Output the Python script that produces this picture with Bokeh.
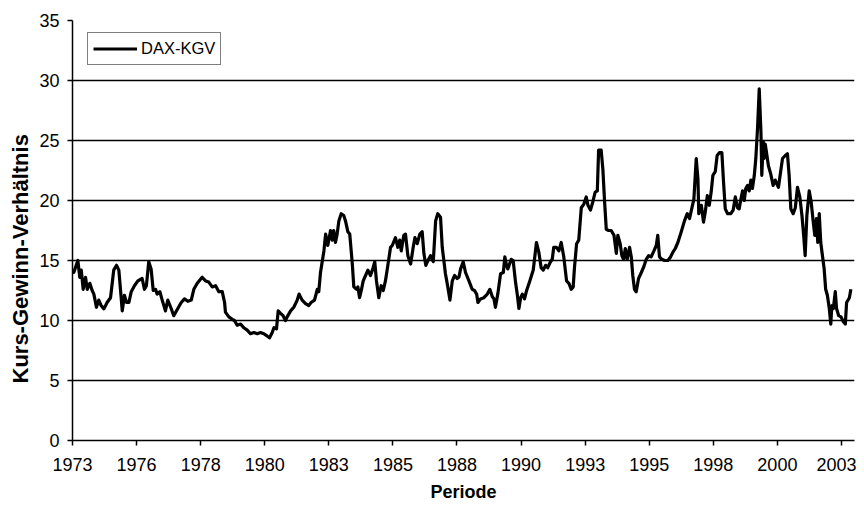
from bokeh.plotting import figure
from bokeh.models import FixedTicker, Legend, Title
from bokeh.embed import file_html
from bokeh.resources import INLINE

# Month index since Jan 1973 and DAX P/E values
months = [
    0.0, 0.6, 2.5, 3.4, 4.1, 5.0, 6.1, 6.9, 8.1, 9.2, 10.0, 11.2, 12.3, 13.4, 14.7, 16.2,
    17.8, 19.3, 20.6, 21.7, 22.5, 23.3, 24.3, 25.3, 26.4, 27.5, 29.0, 30.6, 32.6, 33.7, 34.6,
    35.7, 36.8, 37.8, 38.9, 39.6, 40.9, 42.0, 43.5, 44.6, 46.2, 47.4, 49.3, 50.9, 52.4, 54.0,
    55.6, 56.8, 58.4, 60.7, 62.3, 63.8, 65.4, 67.0, 68.5, 70.1, 71.2, 71.6, 73.2, 74.8, 75.8,
    77.1, 78.7, 80.2, 81.8, 83.3, 84.9, 86.5, 88.0, 89.6, 91.2, 92.2, 93.5, 94.3, 95.5, 96.3,
    97.4, 98.6, 99.7, 100.5, 102.1, 103.6, 105.2, 106.1, 107.5, 109.1, 110.6, 111.7, 113.3,
    114.6, 115.3, 116.1, 117.7, 118.5, 119.5, 120.8, 121.6, 122.3, 123.1, 123.9, 124.7, 125.8,
    127.0, 127.8, 128.9, 129.8, 131.0, 131.7, 133.0, 133.6, 134.4, 135.2, 136.1, 137.2, 138.3,
    139.5, 140.6, 141.5, 142.3, 143.4, 144.5, 145.5, 146.5, 147.3, 148.9, 149.7, 151.2, 152.3,
    153.2, 153.9, 155.1, 155.9, 157.0, 158.3, 159.5, 160.3, 161.4, 162.6, 163.7, 164.5, 165.4,
    166.4, 167.6, 168.9, 170.0, 171.0, 172.3, 173.1, 174.6, 175.7, 176.7, 177.8, 178.9, 180.1,
    180.9, 181.7, 182.9, 184.0, 185.6, 187.1, 188.2, 189.2, 189.8, 191.0, 192.6, 194.2, 195.4,
    196.5, 197.3, 198.0, 199.1, 200.4, 201.7, 202.4, 203.2, 203.8, 205.4, 206.3, 207.4, 208.2,
    209.0, 209.8, 210.6, 211.6, 212.6, 214.1, 215.7, 217.2, 218.3, 219.4, 220.4, 221.5, 222.5,
    223.8, 224.6, 225.3, 226.6, 227.7, 228.8, 230.0, 231.3, 232.4, 233.5, 234.4, 235.0, 236.0,
    237.0, 238.2, 239.4, 240.5, 241.3, 242.5, 243.6, 244.7, 245.7, 246.3, 247.5, 248.3, 249.1,
    249.9, 251.0, 252.2, 253.5, 254.6, 255.3, 256.4, 257.2, 258.0, 258.8, 259.7, 260.8, 261.6,
    262.3, 263.1, 263.9, 265.0, 266.3, 267.5, 268.6, 269.7, 270.9, 272.2, 273.3, 274.0, 274.8,
    275.9, 277.2, 278.7, 280.0, 281.1, 282.2, 283.4, 285.0, 286.5, 287.8, 288.9, 290.0, 290.9,
    292.0, 292.8, 293.2, 294.4, 295.4, 296.2, 297.2, 298.1, 299.0, 299.8, 300.9, 301.8, 302.9,
    304.0, 304.8, 305.6, 306.7, 308.2, 309.3, 310.3, 311.3, 312.1, 312.9, 313.7, 314.5, 315.2,
    316.0, 316.8, 317.6, 318.3, 319.2, 319.9, 320.7, 321.5, 322.3, 322.7, 323.4, 323.8, 324.3,
    324.9, 325.8, 326.9, 328.0, 329.0, 329.7, 330.5, 331.6, 332.4, 333.7, 334.7, 335.5, 336.3,
    337.4, 338.4, 339.4, 340.5, 341.5, 342.3, 343.0, 343.8, 344.9, 345.8, 346.8, 347.5, 348.3,
    348.9, 349.6, 350.3, 351.1, 351.9, 352.6, 353.4, 354.3, 355.0, 355.5, 356.2, 357.1, 357.7,
    358.7, 359.8, 360.9, 361.8, 362.4, 363.7, 364.4,
]
kgv = [
    14.0, 14.0, 15.0, 13.6, 14.2, 12.6, 13.6, 12.6, 13.1, 12.5, 12.2, 11.1, 11.7, 11.25, 10.97, 11.5,
    11.9, 14.2, 14.6, 14.2, 12.5, 10.8, 12.1, 11.5, 11.5, 12.4, 12.9, 13.3, 13.5, 12.6, 12.9,
    14.9, 14.3, 12.5, 12.6, 12.2, 12.4, 11.7, 10.8, 11.7, 11.0, 10.4, 11.0, 11.5, 11.8, 11.6,
    11.7, 12.6, 13.1, 13.6, 13.3, 13.2, 12.8, 12.9, 12.4, 12.4, 11.5, 10.7, 10.3, 10.1, 10.0,
    9.6, 9.7, 9.4, 9.2, 8.9, 9.0, 8.9, 9.0, 8.9, 8.7, 8.55, 9.0, 9.4, 9.3, 10.8,
    10.6, 10.4, 10.0, 10.3, 10.8, 11.1, 11.7, 12.2, 11.7, 11.4, 11.25, 11.5, 11.7,
    12.6, 12.4, 14.0, 15.8, 17.2, 16.25, 17.5, 16.7, 17.5, 16.5, 17.2, 18.3, 18.9,
    18.75, 18.3, 17.4, 17.2, 14.7, 12.8, 12.6, 12.8, 11.9, 12.5, 13.3, 13.75, 14.2,
    13.75, 14.3, 14.9, 13.3, 11.9, 12.9, 12.5, 13.3, 14.2, 16.1, 16.25, 16.9, 16.1,
    16.7, 15.8, 17.1, 17.2, 15.4, 14.7, 16.1, 16.9, 16.4, 17.2, 17.4, 15.6, 14.6,
    15.0, 15.4, 14.9, 18.3, 18.9, 18.6, 16.1, 13.9, 12.8, 11.7, 13.3, 13.75, 13.5,
    13.6, 14.3, 14.9, 14.0, 13.3, 12.6, 12.5, 12.2, 11.5, 11.8, 11.9, 12.2, 12.6,
    12.0, 11.8, 11.1, 12.2, 13.9, 14.0, 15.3, 14.6, 14.3, 15.1, 15.0, 13.2, 12.2,
    11.0, 11.9, 12.2, 11.8, 12.5, 13.3, 14.2, 16.5, 15.7, 14.4, 14.2, 14.6, 14.4,
    14.9, 15.1, 16.1, 16.1, 15.8, 16.5, 15.3, 13.3, 13.1, 12.6, 12.8, 14.4, 16.4,
    16.7, 19.4, 19.7, 20.3, 19.6, 19.2, 19.9, 20.7, 20.8, 24.2, 24.2, 22.6, 19.9,
    17.6, 17.5, 17.5, 17.1, 15.6, 17.1, 16.4, 15.4, 15.1, 16.0, 15.1, 16.1, 15.3,
    13.75, 12.6, 12.4, 13.5, 14.0, 14.5, 15.1, 15.4, 15.3, 15.8, 16.25, 17.1, 15.3,
    15.1, 15.0, 15.0, 15.3, 15.7, 16.0, 16.5, 17.4, 18.3, 18.9, 18.5, 19.4, 20.1,
    23.5, 21.8, 18.9, 19.6, 18.2, 19.0, 20.4, 19.6, 20.7, 22.1, 22.4, 23.75, 24.0,
    24.0, 21.5, 19.3, 18.9, 18.9, 19.2, 20.3, 19.4, 19.3, 20.1, 20.8, 20.0, 21.0,
    21.25, 20.8, 21.7, 21.0, 22.1, 23.5, 26.0, 29.3, 25.7, 22.1, 24.9, 23.5, 24.7,
    24.0, 22.9, 22.2, 21.25, 21.7, 21.4, 21.1, 22.5, 23.5, 23.75, 23.9, 22.1, 19.3,
    18.9, 19.4, 21.1, 20.3, 18.75, 17.1, 15.4, 18.75, 20.8, 19.9, 18.2, 17.1, 18.5,
    16.5, 18.9, 16.5, 15.4, 14.3, 12.6, 12.1, 11.0, 9.7, 11.25, 11.0, 12.4, 11.0,
    10.4, 10.3, 9.9, 9.7, 11.5, 11.9, 12.6,
]

tick_months = [0, 30, 60, 90, 120, 150, 180, 210, 240, 270, 300, 330, 360]
tick_labels = ["1973", "1976", "1978", "1980", "1983", "1985", "1988",
               "1990", "1993", "1995", "1998", "2000", "2003"]
y_ticks = [0, 5, 10, 15, 20, 25, 30, 35]

FONT = "Liberation Sans"

p = figure(width=856, height=507, output_backend="svg", toolbar_location=None,
           x_range=(0, 366.1), y_range=(0, 35),
           min_border_left=72, min_border_right=2, min_border_top=20, min_border_bottom=67)
p.outline_line_color = None
p.background_fill_color = "white"
p.border_fill_color = "white"

r = p.line(months, kgv, line_color="black", line_width=3.2, line_join="round")

# axes
p.xaxis.ticker = FixedTicker(ticks=tick_months)
p.xaxis.major_label_overrides = {m: l for m, l in zip(tick_months, tick_labels)}
p.yaxis.ticker = FixedTicker(ticks=y_ticks)
for ax in (p.xaxis[0], p.yaxis[0]):
    ax.axis_line_color = "black"
    ax.axis_line_width = 1.5
    ax.major_tick_line_color = "black"
    ax.major_tick_line_width = 1.5
    ax.major_tick_out = 5
    ax.major_tick_in = 0
    ax.minor_tick_line_color = None
    ax.major_label_text_font = FONT
    ax.major_label_text_font_size = "18px"
    ax.major_label_text_color = "black"
p.xaxis.major_label_standoff = 12
p.yaxis.major_label_standoff = 8

p.xaxis.axis_label = "Periode"
p.xaxis.axis_label_text_font = FONT
p.xaxis.axis_label_text_font_style = "bold"
p.xaxis.axis_label_text_font_size = "18px"
p.xaxis.axis_label_text_color = "black"
p.xaxis.axis_label_standoff = 8

p.xgrid.grid_line_color = None
p.ygrid.grid_line_color = "black"
p.ygrid.grid_line_width = 1.5

ytitle = Title(text="Kurs-Gewinn-Verhältnis", align="left", offset=57,
               text_font=FONT, text_font_style="bold", text_font_size="22px",
               text_color="black", standoff=8)
p.add_layout(ytitle, "left")

legend = Legend(items=[("DAX-KGV", [r])], location=(15, 375),
                label_text_font=FONT, label_text_font_size="16.5px",
                label_text_color="black",
                glyph_width=44, glyph_height=21, label_standoff=4,
                padding=5, margin=0, spacing=0,
                border_line_color="black", border_line_width=1.5,
                background_fill_color="white", background_fill_alpha=1)
p.add_layout(legend)

open("out.html", "w").write(file_html(p, INLINE))
